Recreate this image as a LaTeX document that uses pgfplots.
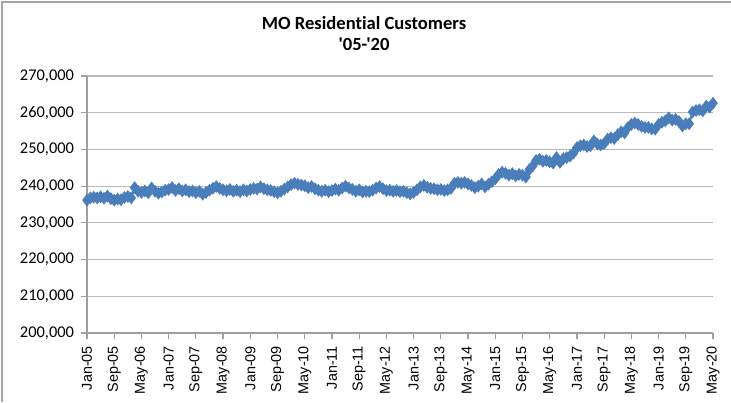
\documentclass[border=0pt]{standalone}
\usepackage{pgfplots}
\pgfplotsset{compat=1.18}
\usepackage{fontspec}
\setmainfont{Carlito}
\newfontfamily\arialfont{Liberation Sans}
\newfontfamily\titlefont{Carlito}[Ligatures={TeXOff,CommonOff}]
\definecolor{xlblue}{HTML}{4A7EBB}
\begin{document}
\begin{tikzpicture}
\path[use as bounding box] (-43.5pt,-34.5pt) rectangle (322pt,166.5pt);
\draw[gray!70,line width=0.6pt] (-42.5pt,-34.5pt) -- (-42.5pt,165.5pt) -- (322pt,165.5pt);
\begin{axis}[
  scale only axis,
  width=313pt, height=128.5pt,
  xmin=0, xmax=184,
  ymin=200000, ymax=270000,
  ytick={200000,210000,...,270000},
  xtick={0,8,...,184},
  xticklabels={Jan-05,Sep-05,May-06,Jan-07,Sep-07,May-08,Jan-09,Sep-09,May-10,Jan-11,Sep-11,May-12,Jan-13,Sep-13,May-14,Jan-15,Sep-15,May-16,Jan-17,Sep-17,May-18,Jan-19,Sep-19,May-20},
  x tick label style={rotate=90,anchor=east,font=\arialfont\fontsize{7.2}{8}\selectfont},
  y tick label style={font=\fontsize{8.2}{9}\selectfont},
  scaled ticks=false,
  yticklabel style={/pgf/number format/.cd,fixed,precision=0,1000 sep={,},assume math mode=true},
  axis x line*=bottom, axis y line*=left,
  axis line style={gray!75,line width=0.6pt},
  tick style={gray!75,line width=0.6pt},
  tick align=outside,
  major tick length=3pt,
  ymajorgrids,
  major grid style={gray!55,line width=0.6pt},
  title={MO Residential Customers\\'05-'20},
  title style={align=center,font=\titlefont\bfseries\fontsize{9.3}{10.5}\selectfont,
    at={(axis description cs:0.4425,1.117)},anchor=center},
]
\addplot[color=xlblue,line width=1pt,mark=diamond*,mark size=2.4pt,mark options={fill=xlblue,draw=xlblue}] coordinates {
(0,236200) (1,236800) (2,237000) (3,236800) (4,237100) (5,236700) (6,237300) (7,236600) (8,236200) (9,236500) (10,236300) (11,236900)
(12,237200) (13,236800) (14,239600) (15,238600) (16,238300) (17,238700) (18,238200) (19,239500) (20,238600) (21,238100) (22,238400) (23,238900)
(24,239100) (25,239600) (26,238800) (27,239300) (28,238700) (29,239000) (30,238500) (31,238700) (32,238200) (33,238600) (34,237800) (35,238300)
(36,238900) (37,239400) (38,239900) (39,239400) (40,239000) (41,238700) (42,239100) (43,238600) (44,238900) (45,238500) (46,239000) (47,238700)
(48,239100) (49,239400) (50,239200) (51,239800) (52,239300) (53,239000) (54,238800) (55,238500) (56,238200) (57,238600) (58,239200) (59,239800)
(60,240400) (61,240800) (62,240500) (63,240300) (64,240100) (65,239600) (66,239900) (67,239300) (68,238900) (69,238600) (70,238900) (71,238500)
(72,238800) (73,239200) (74,238900) (75,239500) (76,240000) (77,239500) (78,239100) (79,238600) (80,239000) (81,238400) (82,238600) (83,238500)
(84,238900) (85,239500) (86,239900) (87,239300) (88,238800) (89,238900) (90,238600) (91,238800) (92,238500) (93,238600) (94,238200) (95,237900)
(96,238300) (97,239000) (98,239800) (99,240200) (100,239700) (101,239400) (102,239300) (103,239000) (104,239100) (105,238800) (106,239000) (107,239400)
(108,240800) (109,241000) (110,240800) (111,241000) (112,240600) (113,240200) (114,239600) (115,240000) (116,240600) (117,239800) (118,240500) (119,241200)
(120,242000) (121,243200) (122,243800) (123,243500) (124,243000) (125,243400) (126,242800) (127,243200) (128,243000) (129,242500) (130,244500) (131,245500)
(132,247000) (133,247300) (134,246800) (135,247000) (136,246600) (137,246300) (138,247800) (139,246500) (140,247500) (141,247800) (142,248200) (143,249000)
(144,250500) (145,251000) (146,251200) (147,250800) (148,251000) (149,252300) (150,251500) (151,251200) (152,251600) (153,252800) (154,253200) (155,253000)
(156,254000) (157,254800) (158,254500) (159,256000) (160,256800) (161,257200) (162,256800) (163,256300) (164,256000) (165,256000) (166,255600) (167,255500)
(168,256800) (169,257400) (170,257800) (171,258600) (172,258000) (173,258200) (174,257600) (175,256400) (176,257000) (177,257000) (178,260200) (179,260600)
(180,260800) (181,260500) (182,261800) (183,261500) (184,262600)
};
\end{axis}
\end{tikzpicture}
\end{document}
